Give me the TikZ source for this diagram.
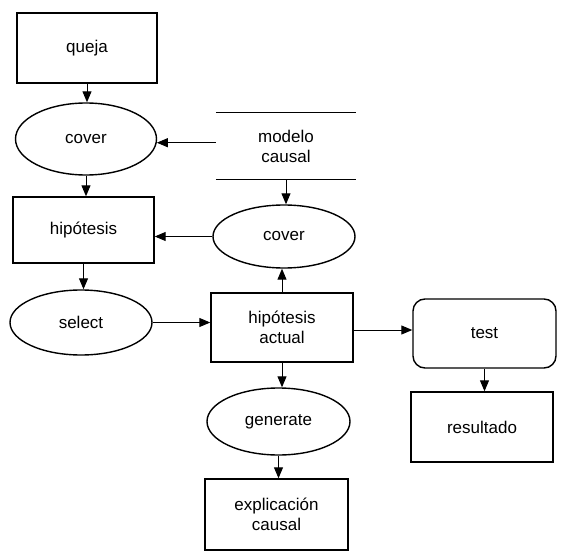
\documentclass[tikz,border=0pt]{standalone}
\usepackage{fontspec}
\setmainfont{Liberation Sans}
\usetikzlibrary{shapes.geometric,arrows.meta}
\begin{document}
\begin{tikzpicture}[x=1pt,y=-1pt,
  every node/.style={font=\fontsize{17}{20}\selectfont, align=center, inner sep=0pt},
  sized/.style 2 args={minimum width=#1pt, minimum height=#2pt},
  boxnode/.style={draw, rectangle, line width=1.4pt},
  roundnode/.style={draw, rectangle, rounded corners=12pt, line width=1.4pt},
  ovalnode/.style={draw, ellipse, line width=1.4pt},
  storeline/.style={line width=1.4pt},
  arr/.style={line width=1pt, -{Triangle[length=11pt,width=9pt]}}]
\useasboundingbox (0,0) rectangle (564,556);

% left column
\node[boxnode, sized={140}{70}] (queja) at (87,48) {queja};
\node[ovalnode, sized={141}{72}] (cover1) at (86,139) {cover};
\node[boxnode, sized={141}{66}] (hip) at (83.5,230) {hipótesis};
\node[ovalnode, sized={142}{65}] (select) at (81,322.5) {select};

% middle column
\node[sized={140}{66}] (modelo) at (286,146) {modelo\\causal};
\draw[storeline] (modelo.north west) -- (modelo.north east);
\draw[storeline] (modelo.south west) -- (modelo.south east);
\node[ovalnode, sized={142}{63}] (cover2) at (284,236.5) {cover};
\node[boxnode, sized={142}{69}] (hipact) at (282,327.5) {hipótesis\\actual};
\node[ovalnode, sized={143}{67}] (gen) at (278.5,421.5) {generate};
\node[boxnode, sized={143}{71}] (expl) at (276.5,514.5) {explicación\\causal};

% right column
\node[roundnode, sized={143}{69}] (test) at (484.5,333.5) {test};
\node[boxnode, sized={142}{70}] (result) at (482,427) {resultado};

% connectors
\draw[arr] (queja.south) -- (queja.south |- cover1.north);
\draw[arr] (cover1.south) -- (cover1.south |- hip.north);
\draw[arr] (hip.south) -- (hip.south |- select.north);
\draw[arr] (modelo.west |- cover1.-3.3) -- (cover1.-3.3);
\draw[arr] (modelo.south) -- (modelo.south |- cover2.north);
\draw[arr] (cover2.west) -- (cover2.west -| hip.east);
\draw[arr] (hipact.north) -- (hipact.north |- cover2.south);
\draw[arr] (select.east) -- (select.east -| hipact.west);
\draw[arr] ([yshift=-2.5pt]hipact.east) -- ([yshift=-2.5pt]hipact.east -| test.west);
\draw[arr] (test.south) -- (test.south |- result.north);
\draw[arr] (hipact.south) -- (hipact.south |- gen.north);
\draw[arr] (gen.south) -- (gen.south |- expl.north);
\end{tikzpicture}
\end{document}
